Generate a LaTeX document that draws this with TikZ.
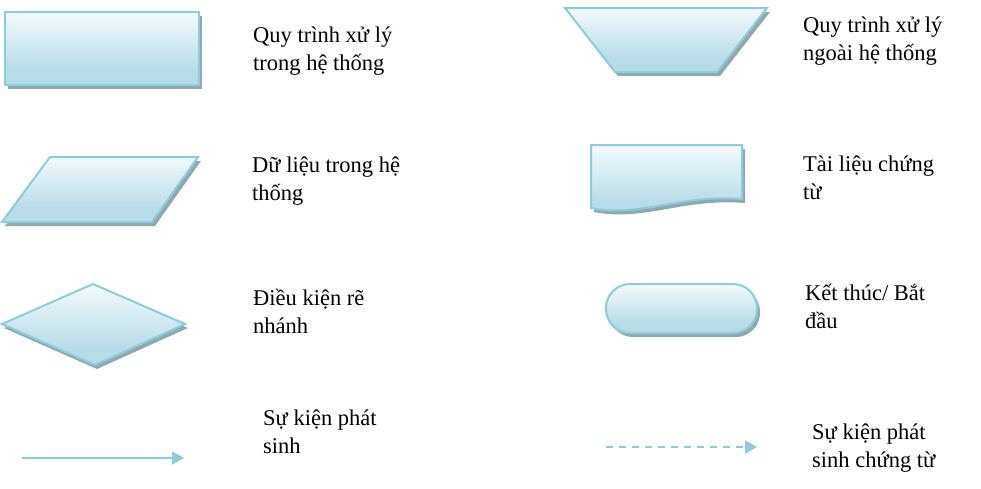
\documentclass[tikz,border=0pt]{standalone}
\usepackage{fontspec}
\setmainfont{Liberation Serif}
\usetikzlibrary{arrows.meta}
\definecolor{edge}{HTML}{8DCCDA}
\definecolor{grad}{HTML}{B6DCE7}
\definecolor{shad}{HTML}{8FA9AF}
\pgfdeclareverticalshading{myshade}{100bp}{color(0bp)=(grad); color(35bp)=(grad); color(82bp)=(white); color(100bp)=(white)}
\begin{document}
\begin{tikzpicture}[x=1pt,y=-1pt,
  shapebox/.style={draw=edge,line width=2pt,shading=myshade,shading angle=0,line join=miter},
  shadowbox/.style={fill=shad,draw=none},
  lbl/.style={anchor=base west,inner sep=0pt,font=\fontsize{22.5}{27.5}\selectfont,align=left},
  flow/.style={draw=edge,line width=2pt,-{Triangle[length=12pt,width=13pt]}}]
\useasboundingbox (0,0) rectangle (981,488);
% rectangle
\fill[shadowbox] (8,16) rectangle (202,89);
\path[shapebox] (5,12) rectangle (199,85);
% parallelogram
\fill[shadowbox] (53,161) -- (201,161) -- (155,226) -- (5,226) -- cycle;
\path[shapebox] (50,157) -- (198,157) -- (152,222) -- (2,222) -- cycle;
% diamond
\fill[shadowbox] (4,328) -- (95,288) -- (188,328) -- (97,369) -- cycle;
\path[shapebox] (2,324) -- (93,284) -- (185,324) -- (95,365) -- cycle;
% arrow
\coordinate (a1) at (22,458);
\coordinate (a2) at (184,458);
\draw[flow] (a1) -- (a2);
% trapezoid
\fill[shadowbox] (568,12) -- (770,12) -- (720,76) -- (618,76) -- cycle;
\path[shapebox] (565,8) -- (767,8) -- (717,72) -- (615,72) -- cycle;
% document
\fill[shadowbox] (594,149) -- (745,149) -- (745,203) .. controls (683,198) and (643,222) .. (594,212) -- cycle;
\path[shapebox] (591,145) -- (742,145) -- (742,199) .. controls (680,194) and (640,218) .. (591,208) -- cycle;
% terminal
\fill[shadowbox,rounded corners=24pt] (609,288) rectangle (760,337);
\path[shapebox,rounded corners=24pt] (606,284) rectangle (757,333);
% dashed arrow
\coordinate (b1) at (606,447);
\coordinate (b2) at (757,447);
\draw[flow,dash pattern=on 7pt off 6pt] (b1) -- (b2);
% labels (anchored at the baseline of the last line)
\node[lbl] (t1) at (253,70) {Quy trình xử lý\\trong hệ thống};
\node[lbl] (t2) at (252,200) {Dữ liệu trong hệ\\thống};
\node[lbl] (t3) at (253,333) {Điều kiện rẽ\\nhánh};
\node[lbl] (t4) at (263,453) {Sự kiện phát\\sinh};
\node[lbl] (t5) at (803,60) {Quy trình xử lý\\ngoài hệ thống};
\node[lbl] (t6) at (803,199) {Tài liệu chứng\\từ};
\node[lbl] (t7) at (805,328) {Kết thúc/ Bắt\\đầu};
\node[lbl] (t8) at (812,467) {Sự kiện phát\\sinh chứng từ};
\end{tikzpicture}
\end{document}
